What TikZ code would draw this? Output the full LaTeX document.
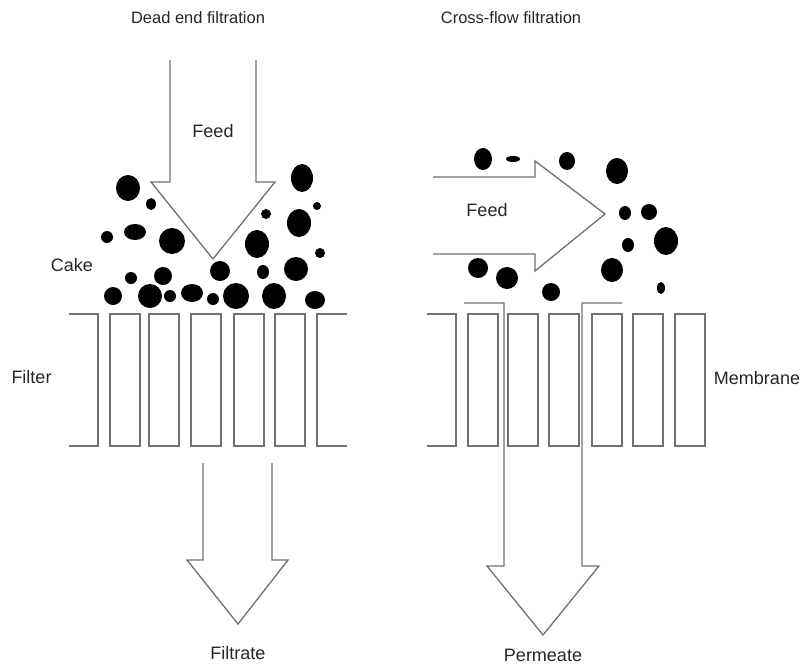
\documentclass[tikz,border=0pt]{standalone}
\usepackage{fontspec}
\setmainfont{Liberation Sans}
\definecolor{wallgray}{RGB}{112,112,112}
\begin{document}
\begin{tikzpicture}[x=1pt,y=-1pt,line width=1.3pt,
  wall/.style={draw=wallgray,line join=miter},
  lbl/.style={font=\fontsize{18}{20}\selectfont,text=black!85},
  ttl/.style={font=\fontsize{16.5}{20}\selectfont,text=black!85}]
\useasboundingbox (0,0) rectangle (805,664);
\node[ttl] (dead) at (198,18) {Dead end filtration}; \node[ttl] (cross) at (511,18) {Cross-flow filtration};
\draw[wall] (170,60)--(170,182)--(151,182)--(213,259)--(275,182)--(256,182)--(256,60);
\draw[wall] (203,463)--(203,560)--(187,560)--(238,624)--(288,560)--(272,560)--(272,463);
\draw[wall] (433,177)--(535,177)--(535,161)--(605,214)--(535,271)--(535,254)--(433,254);
\draw[wall] (69,314)--(98,314)--(98,446)--(69,446); \draw[wall] (347,314)--(317,314)--(317,446)--(347,446);
\foreach \a/\b in {110/140,149/179,191/221,234/264,275/305} \draw[wall] (\a,314) rectangle (\b,446);
\draw[wall] (427,314)--(456,314)--(456,446)--(427,446);
\foreach \a/\b in {468/498,508/538,549/579,592/622,633/663,675/705} \draw[wall] (\a,314) rectangle (\b,446);
\draw[wall] (464,303)--(504,303)--(504,566)--(487,566)--(543,635)--(599,566)--(582,566)--(582,303)--(622,303);
\foreach \p/\a/\b in {(128,188)/12/13,(151,204)/5/6,(107,237)/6/6,(135,232)/11/8,(172,241)/13/13,(131,278)/6/6,
  (163,276)/9/9,(113,296)/9/9,(150,296)/12/12,(170,296)/6/6,(192,293)/11/9,(213,299)/6/6,(220,271)/10/10,
  (236,296)/13/13,(266,214)/5/5,(257,244)/12/14,(263,272)/6/7,(274,296)/12/13,(302,178)/11/14,(317,206)/4/4,
  (299,223)/12/14,(320,253)/5/5,(296,269)/12/12,(315,300)/10/9}
  \fill \p ellipse (\a pt and \b pt);
\foreach \p/\a/\b in {(483,159)/9/11,(513,159)/7/3,(567,161)/8/9,(617,171)/11/13,(625,213)/6/7,(649,212)/8/8,
  (628,245)/6/7,(666,241)/12/14,(612,270)/11/12,(661,288)/4/6,(478,268)/10/10,(507,278)/11/11,(551,292)/9/9}
  \fill \p ellipse (\a pt and \b pt);
\node[lbl] (feedl) at (213,131) {Feed}; \node[lbl] (feedr) at (487,210) {Feed};
\node[lbl] (cake) at (72,265) {Cake}; \node[lbl] (filter) at (31.5,377) {Filter};
\node[lbl] (membrane) at (757,378) {Membrane};
\node[lbl] (filtrate) at (238,653) {Filtrate}; \node[lbl] (permeate) at (543,655) {Permeate};
\end{tikzpicture}
\end{document}
